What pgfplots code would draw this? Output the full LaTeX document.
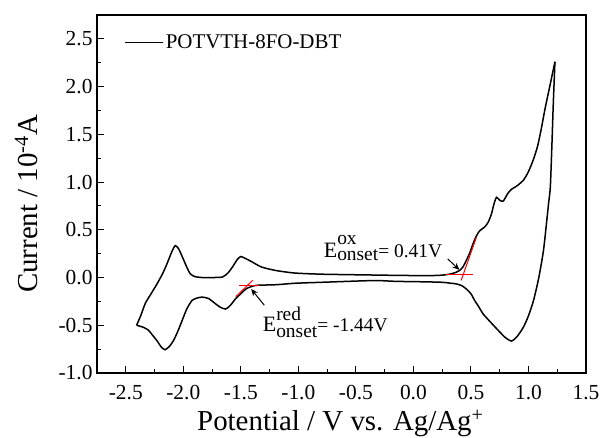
\documentclass[border=0pt]{standalone}
\usepackage{fontspec}
\setmainfont{Liberation Serif}
\usepackage{pgfplots}
\pgfplotsset{compat=1.18}
\usetikzlibrary{arrows.meta}
\begin{document}
\begin{tikzpicture}
\begin{axis}[
  at={(97bp,65bp)}, anchor=south west,
  scale only axis, width=489bp, height=358bp,
  xmin=-2.75, xmax=1.5, ymin=-1.0, ymax=2.75,
  xtick={-2.5,-2,-1.5,-1,-0.5,0,0.5,1,1.5},
  ytick={-1,-0.5,0,0.5,1,1.5,2,2.5},
  minor x tick num=1, minor y tick num=1,
  tick align=inside,
  xtick pos=left, ytick pos=left,
  major tick length=7bp, minor tick length=4bp,
  tick style={line width=1bp, black},
  axis line style={line width=1.2bp},
  /pgf/number format/.cd, fixed, fixed zerofill, precision=1, assume math mode=true, /pgfplots/.cd,
  ticklabel style={font=\fontsize{21.5}{21.5}\selectfont},
  xticklabel style={yshift=-9bp},
  yticklabel style={xshift=-1bp},
  xlabel={Potential / V vs. Ag/Ag\textsuperscript{+}},
  ylabel={Current / 10\textsuperscript{-4}A},
  label style={font=\fontsize{29}{29}\selectfont},
  xlabel style={at={(axis description cs:0.2045,-0.16)}, anchor=base west, inner sep=0pt},
  ylabel style={at={(axis description cs:-0.1227,0.2235)}, anchor=base west, inner sep=0pt},
  legend style={draw=none, fill=none, at={(axis description cs:0.05,0.9226)}, anchor=west, font=\fontsize{21}{21}\selectfont},
  legend image code/.code={\draw[#1, line width=1.2bp] (0bp,0bp) -- (38bp,0bp);},
  clip=false,
]
% upper (anodic) branch
\addplot[black, line width=1.5bp, smooth, tension=0.4] coordinates {
(-2.406,-0.50) (-2.37,-0.40) (-2.33,-0.27) (-2.28,-0.17) (-2.23,-0.07)
(-2.18,0.04) (-2.143,0.14) (-2.10,0.27) (-2.07,0.334) (-2.04,0.30)
(-2.006,0.21) (-1.97,0.11) (-1.94,0.04) (-1.90,0.01) (-1.836,0.0)
(-1.75,0.0) (-1.66,0.005) (-1.61,0.05) (-1.573,0.11) (-1.53,0.19)
(-1.50,0.22) (-1.46,0.20) (-1.397,0.16) (-1.32,0.11) (-1.193,0.073)
(-1.03,0.047) (-0.80,0.035) (-0.447,0.028) (-0.10,0.022) (0.14,0.02)
(0.25,0.025) (0.313,0.035) (0.36,0.05) (0.40,0.073) (0.43,0.11)
(0.46,0.18) (0.49,0.26) (0.517,0.35) (0.545,0.43) (0.576,0.49)
(0.62,0.53) (0.65,0.58) (0.678,0.665) (0.70,0.77) (0.722,0.84)
(0.75,0.81) (0.78,0.80) (0.82,0.88) (0.853,0.925) (0.90,0.96)
(0.956,1.02) (1.00,1.11) (1.044,1.24) (1.08,1.38) (1.11,1.55)
(1.146,1.78) (1.19,2.03) (1.23,2.26)
};
\addlegendentry{POTVTH-8FO-DBT}
% lower (cathodic) branch
\addplot[black, line width=1.5bp, smooth, tension=0.4, forget plot] coordinates {
(1.23,2.26) (1.215,1.80) (1.204,1.40) (1.19,0.95) (1.175,0.78)
(1.155,0.55) (1.13,0.28) (1.09,0.0) (1.044,-0.24) (1.00,-0.40)
(0.956,-0.52) (0.90,-0.62) (0.853,-0.665) (0.80,-0.63) (0.75,-0.57)
(0.68,-0.48) (0.605,-0.38) (0.57,-0.31) (0.532,-0.24) (0.50,-0.17)
(0.46,-0.12) (0.42,-0.085) (0.37,-0.066) (0.313,-0.058) (0.254,-0.05)
(0.10,-0.045) (-0.155,-0.04) (-0.30,-0.032) (-0.447,-0.035) (-0.80,-0.05)
(-1.03,-0.06) (-1.19,-0.075) (-1.368,-0.082) (-1.42,-0.10) (-1.456,-0.12)
(-1.50,-0.17) (-1.544,-0.22) (-1.59,-0.29) (-1.632,-0.33) (-1.68,-0.31)
(-1.72,-0.275) (-1.78,-0.22) (-1.836,-0.205) (-1.88,-0.215) (-1.924,-0.24)
(-1.97,-0.33) (-2.01,-0.45) (-2.05,-0.57) (-2.085,-0.66) (-2.12,-0.72)
(-2.158,-0.756) (-2.19,-0.73) (-2.23,-0.66) (-2.27,-0.60) (-2.304,-0.55)
(-2.35,-0.52) (-2.406,-0.50)
};
% onset tangents
\addplot[red, line width=1bp, forget plot] coordinates {(0.283,0.03) (0.517,0.03)};
\addplot[red, line width=1bp, forget plot] coordinates {(0.415,-0.03) (0.547,0.42)};
\addplot[red, line width=1bp, forget plot] coordinates {(-1.515,-0.08) (-1.34,-0.08)};
\addplot[red, line width=1bp, forget plot] coordinates {(-1.544,-0.20) (-1.397,-0.03)};
% arrows
\addplot[black, line width=1bp, -{Stealth[length=7bp,width=6bp]}, forget plot] coordinates {(0.298,0.195) (0.40,0.08)};
\addplot[black, line width=1bp, -{Stealth[length=7bp,width=6bp]}, forget plot] coordinates {(-1.296,-0.29) (-1.41,-0.12)};
% labels
\node[anchor=base west, inner sep=0pt, font=\fontsize{19.5}{19.5}\selectfont] at (axis cs:-0.78,0.215)
  {{\fontsize{22}{22}\selectfont E}\rlap{\raisebox{13bp}{ox}}\raisebox{-3.5bp}{onset}= 0.41V};
\node[anchor=base west, inner sep=0pt, font=\fontsize{19.5}{19.5}\selectfont] at (axis cs:-1.31,-0.565)
  {{\fontsize{22}{22}\selectfont E}\rlap{\raisebox{11bp}{red}}\raisebox{-6bp}{onset}= -1.44V};
\end{axis}
\pgfresetboundingbox
\useasboundingbox (0,0) rectangle (602bp,438bp);
\end{tikzpicture}
\end{document}
